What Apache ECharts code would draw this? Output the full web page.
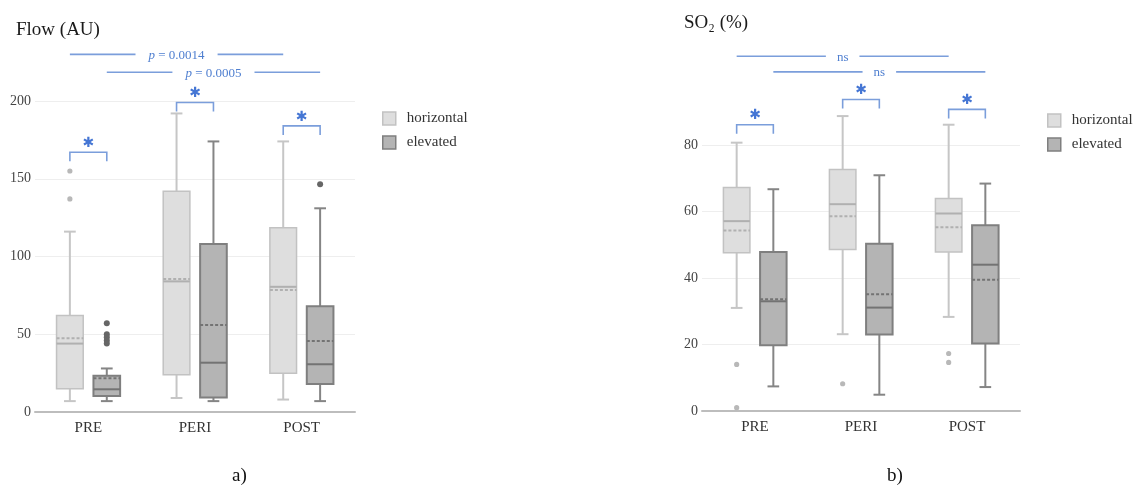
<!DOCTYPE html>
<html>
<head>
<meta charset="utf-8">
<script src="https://cdn.jsdelivr.net/npm/echarts@6/dist/echarts.min.js"></script>
<style>html,body{margin:0;padding:0;background:#fff}#c{width:1137px;height:485px}</style>
</head>
<body>
<div id="c"></div>
<script>
// ---------------- DATA ----------------
const categories = ['PRE', 'PERI', 'POST'];
const groups = ['horizontal', 'elevated'];

// Flow (AU): [min, Q1, median, Q3, max]
const flowHorizontal = [[7, 15, 44, 62, 116], [9, 24, 84, 142, 192], [8, 25, 80.5, 118.5, 174]];
const flowHorizontalMean = [47.5, 85.5, 78.5];
const flowElevated = [[7, 10.3, 14.6, 23.3, 28], [7, 9.4, 31.7, 108, 174], [7, 18, 30.7, 68, 131]];
const flowElevatedMean = [21.7, 56, 45.6];
const flowHorizontalOutliers = [[0, 155], [0, 137]];
const flowElevatedOutliers = [[0, 57], [0, 50], [0, 48], [0, 46], [0, 44], [2, 146.5]];
const flowPairLevels = [167, 199, 184];
const flowCompareLevels = [230, 218.5];
const flowCompareLabels = ['p = 0.0014', 'p = 0.0005'];
const flowTicks = [0, 50, 100, 150, 200];

// SO2 (%)
const so2Horizontal = [[31, 47.6, 57.1, 67.2, 80.7], [23.1, 48.6, 62.2, 72.6, 88.7], [28.3, 47.8, 59.4, 63.9, 86.1]];
const so2HorizontalMean = [54.3, 58.6, 55.3];
const so2Elevated = [[7.4, 19.8, 33, 47.8, 66.7], [4.9, 23, 31.1, 50.3, 70.9], [7.2, 20.3, 44, 55.9, 68.4]];
const so2ElevatedMean = [33.6, 35.1, 39.5];
const so2HorizontalOutliers = [[0, 14], [0, 1], [1, 8.2], [2, 17.3], [2, 14.6]];
const so2ElevatedOutliers = [];
const so2PairLevels = [86.1, 93.7, 90.7];
const so2CompareLevels = [106.7, 102];
const so2CompareLabels = ['ns', 'ns'];
const so2Ticks = [0, 20, 40, 60, 80];

// ---------------- STYLE ----------------
const SERIF = '"Liberation Serif", "DejaVu Serif", serif';
const OFF = [-0.173, 0.173];
const ST = {
  horizontal: {fill: '#dedede', border: '#c2c2c2', bw: 1.5, whisker: '#c6c6c6', med: '#b0b0b0', dot: '#b8b8b8', r: 2.6},
  elevated: {fill: '#b4b4b4', border: '#7f7f7f', bw: 2, whisker: '#858585', med: '#737373', dot: '#666666', r: 3}
};
const BLUE_LINE = '#7b9edb';
const BLUE_TEXT = '#4f7fd0';
const BLUE_STAR = '#4576d4';

function boxRows(stats, means) {
  return stats.map((s, i) => [i].concat(s).concat([means[i]]));
}

function boxRender(off, st) {
  return function (params, api) {
    const i = api.value(0);
    const band = api.size([1, 0])[0];
    const cx = api.coord([i, 0])[0] + off * band;
    const y = k => api.coord([i, api.value(k)])[1];
    const hw = band * 0.125, cw = band * 0.055;
    const yMin = y(1), yQ1 = y(2), yMed = y(3), yQ3 = y(4), yMax = y(5), yMean = y(6);
    const ws = {stroke: st.whisker, lineWidth: 2};
    return {
      type: 'group', children: [
        {type: 'line', shape: {x1: cx, y1: yMax, x2: cx, y2: yQ3}, style: ws},
        {type: 'line', shape: {x1: cx, y1: yQ1, x2: cx, y2: yMin}, style: ws},
        {type: 'line', shape: {x1: cx - cw, y1: yMax, x2: cx + cw, y2: yMax}, style: ws},
        {type: 'line', shape: {x1: cx - cw, y1: yMin, x2: cx + cw, y2: yMin}, style: ws},
        {type: 'rect', shape: {x: cx - hw, y: yQ3, width: 2 * hw, height: yQ1 - yQ3}, style: {fill: st.fill, stroke: st.border, lineWidth: st.bw}},
        {type: 'line', shape: {x1: cx - hw, y1: yMed, x2: cx + hw, y2: yMed}, style: {stroke: st.med, lineWidth: 2}},
        {type: 'line', shape: {x1: cx - hw, y1: yMean, x2: cx + hw, y2: yMean}, style: {stroke: st.med, lineWidth: 2, lineDash: [3, 2]}}
      ]
    };
  };
}

function dotRender(off, st) {
  return function (params, api) {
    const band = api.size([1, 0])[0];
    const p = api.coord([api.value(0), api.value(1)]);
    return {type: 'circle', shape: {cx: p[0] + off * band, cy: p[1], r: st.r}, style: {fill: st.dot}};
  };
}

// annotation rows: [kind, catA, catB, level, labelIndex]
function annotRows(pairLevels, compareLevels) {
  const rows = [];
  pairLevels.forEach((lv, i) => rows.push([0, i, i, lv, -1]));
  compareLevels.forEach((lv, g) => rows.push([1 + g, 0, categories.length - 1, lv, g]));
  return rows;
}

function annotRender(labels) {
  return function (params, api) {
    const kind = api.value(0);
    const band = api.size([1, 0])[0];
    const a = api.value(1), b = api.value(2), lv = api.value(3);
    if (kind === 0) {
      const p = api.coord([a, lv]);
      const x1 = p[0] + OFF[0] * band, x2 = p[0] + OFF[1] * band, yy = p[1];
      return {
        type: 'group', children: [
          {type: 'polyline', shape: {points: [[x1, yy + 9], [x1, yy], [x2, yy], [x2, yy + 9]]}, style: {stroke: BLUE_LINE, lineWidth: 1.6, fill: null}},
          {type: 'text', style: {text: '\u2731', x: (x1 + x2) / 2, y: yy - 9, align: 'center', verticalAlign: 'middle', fill: BLUE_STAR, font: 'bold 14px "DejaVu Sans"'}}
        ]
      };
    }
    const g = kind - 1;
    const pa = api.coord([a, lv]), pb = api.coord([b, lv]);
    const x1 = pa[0] + OFF[g] * band, x2 = pb[0] + OFF[g] * band;
    const lab = labels[api.value(4)];
    const isP = lab.indexOf('p') === 0;
    return {
      type: 'group', children: [
        {type: 'line', shape: {x1: x1, y1: pa[1], x2: x2, y2: pa[1]}, style: {stroke: BLUE_LINE, lineWidth: 1.6}},
        {type: 'text', style: {
          text: isP ? '{i|p}' + lab.slice(1) : lab,
          x: (x1 + x2) / 2, y: pa[1] + 1, align: 'center', verticalAlign: 'middle',
          fill: BLUE_TEXT, font: '13px ' + SERIF,
          backgroundColor: '#fff', padding: [2, isP ? 13 : 11],
          rich: {i: {fontStyle: 'italic', fontSize: 13, fontFamily: SERIF, fill: BLUE_TEXT}}
        }}
      ]
    };
  };
}

function yAxisFor(grid, max, interval) {
  return {
    type: 'value', gridIndex: grid, min: 0, max: max, interval: interval,
    axisLine: {show: false}, axisTick: {show: false},
    axisLabel: {color: '#444', fontFamily: SERIF, fontSize: 14, margin: 4},
    splitLine: {lineStyle: {color: '#eeeeee', width: 1}}
  };
}
function xAxisFor(grid) {
  return {
    type: 'category', gridIndex: grid, data: categories,
    axisLine: {lineStyle: {color: '#bdbdbd', width: 2}}, axisTick: {show: false},
    axisLabel: {color: '#333', fontFamily: SERIF, fontSize: 15, margin: 9}
  };
}

function chartSeries(gi, hStats, hMean, eStats, eMean, hOut, eOut, pairLv, cmpLv, cmpLab) {
  const s = [];
  const sets = [[hStats, hMean, hOut], [eStats, eMean, eOut]];
  groups.forEach((g, k) => {
    s.push({
      type: 'custom', name: g, xAxisIndex: gi, yAxisIndex: gi, clip: false,
      itemStyle: {color: ST[g].fill, borderColor: ST[g].border},
      renderItem: boxRender(OFF[k], ST[g]),
      encode: {x: 0, y: [1, 2, 3, 4, 5, 6]},
      data: boxRows(sets[k][0], sets[k][1])
    });
    s.push({
      type: 'custom', name: g, xAxisIndex: gi, yAxisIndex: gi, clip: false,
      itemStyle: {color: ST[g].fill, borderColor: ST[g].border},
      renderItem: dotRender(OFF[k], ST[g]),
      encode: {x: 0, y: 1},
      data: sets[k][2]
    });
  });
  s.push({
    type: 'custom', xAxisIndex: gi, yAxisIndex: gi, clip: false, silent: true,
    renderItem: annotRender(cmpLab),
    encode: {x: 1, y: 3},
    data: annotRows(pairLv, cmpLv)
  });
  return s;
}

function legendFor(left, top) {
  return {
    left: left, top: top, orient: 'vertical', itemWidth: 13, itemHeight: 13, itemGap: 9,
    icon: 'rect', textStyle: {fontFamily: SERIF, fontSize: 15, color: '#333', padding: [0, 0, 0, 6]},
    data: groups.map(g => ({name: g, icon: 'rect', itemStyle: {color: ST[g].fill, borderColor: ST[g].border, borderWidth: 1.5}}))
  };
}

const chart = echarts.init(document.getElementById('c'), null, {renderer: 'canvas'});
chart.setOption({
  animation: false,
  backgroundColor: '#fff',
  title: [
    {text: 'Flow (AU)', left: 11, top: 16, textStyle: {fontFamily: SERIF, fontSize: 19, fontWeight: 'normal', color: '#1a1a1a'}},
    {text: 'SO\u2082 (%)', left: 679, top: 9, textStyle: {fontFamily: SERIF, fontSize: 19, fontWeight: 'normal', color: '#1a1a1a'}},
    {text: 'a)', left: 227, top: 462, textStyle: {fontFamily: SERIF, fontSize: 19, fontWeight: 'normal', color: '#111'}},
    {text: 'b)', left: 882, top: 462, textStyle: {fontFamily: SERIF, fontSize: 19, fontWeight: 'normal', color: '#111'}}
  ],
  legend: [legendFor(377, 106), legendFor(1042, 108)],
  grid: [
    {left: 35, top: 101, width: 320, height: 311},
    {left: 702, top: 145, width: 318, height: 266}
  ],
  xAxis: [xAxisFor(0), xAxisFor(1)],
  yAxis: [yAxisFor(0, flowTicks[flowTicks.length - 1], flowTicks[1] - flowTicks[0]), yAxisFor(1, so2Ticks[so2Ticks.length - 1], so2Ticks[1] - so2Ticks[0])],
  series: chartSeries(0, flowHorizontal, flowHorizontalMean, flowElevated, flowElevatedMean, flowHorizontalOutliers, flowElevatedOutliers, flowPairLevels, flowCompareLevels, flowCompareLabels)
    .concat(chartSeries(1, so2Horizontal, so2HorizontalMean, so2Elevated, so2ElevatedMean, so2HorizontalOutliers, so2ElevatedOutliers, so2PairLevels, so2CompareLevels, so2CompareLabels))
});
</script>
</body>
</html>
